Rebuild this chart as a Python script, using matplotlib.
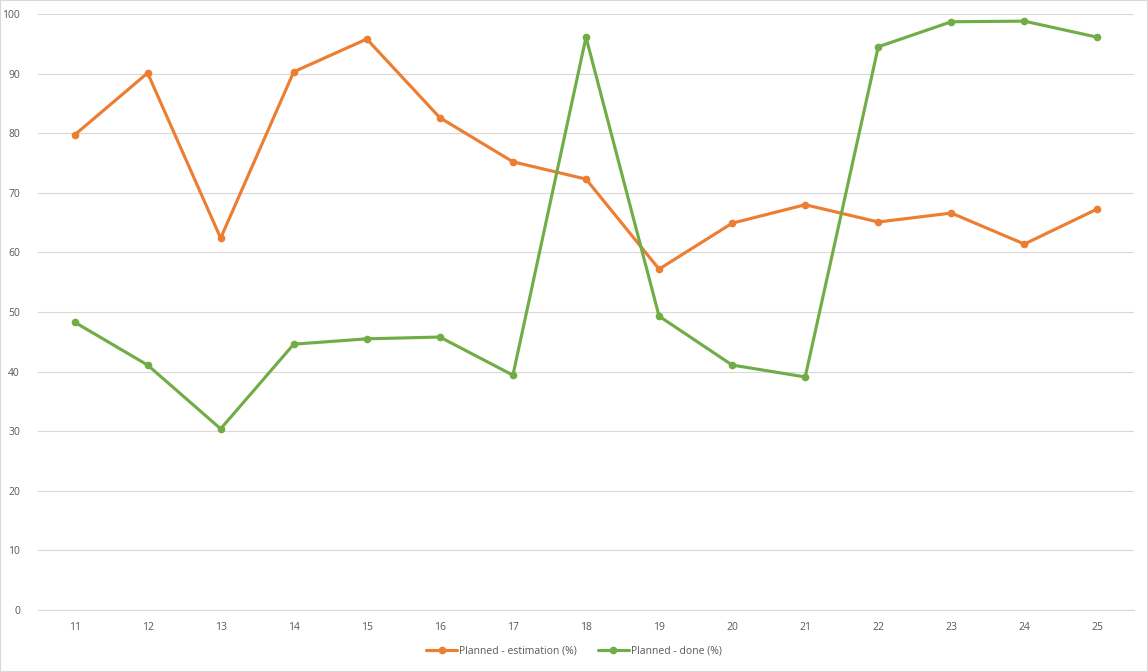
import matplotlib
matplotlib.use('Agg')
import matplotlib.pyplot as plt
from matplotlib.patches import Rectangle

# Datos
semanas = ['11', '12', '13', '14', '15', '16', '17', '18', '19', '20', '21', '22', '23', '24', '25']
estimacion = [79.7, 90.1, 62.4, 90.3, 95.8, 82.6, 75.2, 72.3, 57.2, 64.9, 68.0, 65.1, 66.6, 61.4, 67.3]
hecho = [48.3, 41.1, 30.4, 44.6, 45.5, 45.8, 39.4, 96.1, 49.3, 41.1, 39.1, 94.5, 98.7, 98.8, 96.1]
etiquetas = ['Planned - estimation (%)', 'Planned - done (%)']

naranja = '#ED7D31'
verde = '#70AD47'
gris_texto = '#595959'

plt.rcParams['font.family'] = ['Open Sans', 'DejaVu Sans']

fig = plt.figure(figsize=(11.48, 6.72), dpi=100)
ax = fig.add_axes([38 / 1148, 1 - 610 / 672, (1134 - 38) / 1148, (610 - 14) / 672])

x = list(range(len(semanas)))
ax.plot(x, estimacion, color=naranja, lw=2.25, marker='o', ms=4.5, label=etiquetas[0],
        solid_capstyle='round', zorder=3)
ax.plot(x, hecho, color=verde, lw=2.25, marker='o', ms=4.5, label=etiquetas[1],
        solid_capstyle='round', zorder=3)

ax.set_xlim(-0.5, len(semanas) - 0.5)
ax.set_ylim(0, 100)
ax.set_yticks(range(0, 101, 10))
ax.set_xticks(x)
ax.set_xticklabels(semanas)
ax.grid(axis='y', color='#D9D9D9', lw=0.8, zorder=0)
for s in ['top', 'right', 'left']:
    ax.spines[s].set_visible(False)
ax.spines['bottom'].set_color('#D9D9D9')
ax.tick_params(axis='both', length=0, labelsize=7.5, colors=gris_texto)
ax.tick_params(axis='x', pad=9)
ax.tick_params(axis='y', pad=13)

leg = fig.legend(loc='center', bbox_to_anchor=(0.5, 1 - 651 / 672), ncol=2, frameon=False,
                 fontsize=7.5, handlelength=3.0, columnspacing=2.0, handletextpad=0.2)
for t in leg.get_texts():
    t.set_color(gris_texto)

# borde de la figura
fig.patches.append(Rectangle((0, 0), 1, 1, transform=fig.transFigure, fill=False,
                             edgecolor='#D9D9D9', lw=1.5))

fig.savefig('out.png', dpi=100)
